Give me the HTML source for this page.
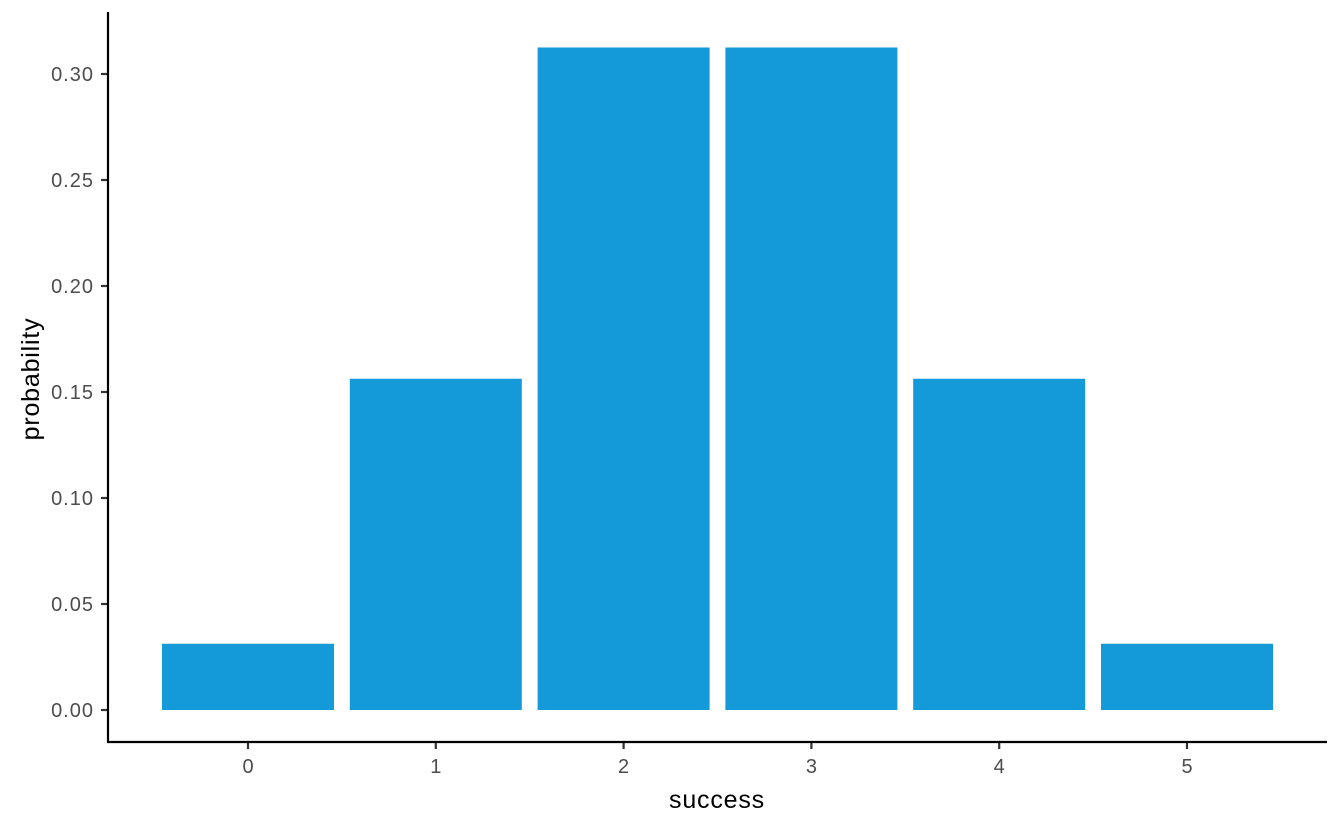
<!DOCTYPE html>
<html><head><meta charset="utf-8"><style>
html,body{margin:0;padding:0;background:#fff;}
svg{display:block;font-family:"Liberation Sans",Arial,sans-serif;}
</style></head><body>
<svg id="chart" width="1342" height="829" viewBox="0 0 1342 829" xmlns="http://www.w3.org/2000/svg">
<g id="bars"></g>
<g id="yticks"></g>
<g id="xticks"></g>
<line x1="108" y1="12" x2="108" y2="742" stroke="#000" stroke-width="2.2"/>
<line x1="107" y1="742" x2="1327" y2="742" stroke="#000" stroke-width="2.2"/>
<text x="717" y="808" text-anchor="middle" font-size="25" letter-spacing="0.8" fill="#000">success</text>
<text transform="translate(39,379) rotate(-90)" text-anchor="middle" font-size="25" letter-spacing="0.8" fill="#000">probability</text>
</svg>
<script>
const categories = ["0","1","2","3","4","5"];
const values = [0.03125,0.15625,0.3125,0.3125,0.15625,0.03125];
const yTickValues = [0,0.05,0.10,0.15,0.20,0.25,0.30];
const yTickLabels = ["0.00","0.05","0.10","0.15","0.20","0.25","0.30"];
const NS="http://www.w3.org/2000/svg";
function yScale(v){return 710 - v*2120;}
function xScale(i){return 248 + i*187.8;}
const bw=172;
const bars=document.getElementById('bars');
values.forEach((v,i)=>{
  const r=document.createElementNS(NS,'rect');
  r.setAttribute('x',xScale(i)-bw/2);
  r.setAttribute('y',yScale(v));
  r.setAttribute('width',bw);
  r.setAttribute('height',yScale(0)-yScale(v));
  r.setAttribute('fill','#159ad9');
  
  
  bars.appendChild(r);
});
const yt=document.getElementById('yticks');
yTickValues.forEach((v,i)=>{
  const y=yScale(v);
  const l=document.createElementNS(NS,'line');
  l.setAttribute('x1',101);l.setAttribute('x2',108);l.setAttribute('y1',y);l.setAttribute('y2',y);
  l.setAttribute('stroke','#333');l.setAttribute('stroke-width','2.2');
  
  
  yt.appendChild(l);
  const t=document.createElementNS(NS,'text');
  t.setAttribute('x',94);t.setAttribute('y',y+7);t.setAttribute('text-anchor','end');
  t.setAttribute('font-size','20');t.setAttribute('letter-spacing','1');t.setAttribute('fill','#4d4d4d');
  t.textContent=yTickLabels[i];
  
  
  yt.appendChild(t);
});
const xt=document.getElementById('xticks');
categories.forEach((c,i)=>{
  const x=xScale(i);
  const l=document.createElementNS(NS,'line');
  l.setAttribute('x1',x);l.setAttribute('x2',x);l.setAttribute('y1',742);l.setAttribute('y2',749);
  l.setAttribute('stroke','#333');l.setAttribute('stroke-width','2.2');
  
  
  xt.appendChild(l);
  const t=document.createElementNS(NS,'text');
  t.setAttribute('x',x);t.setAttribute('y',773);t.setAttribute('text-anchor','middle');
  t.setAttribute('font-size','20');t.setAttribute('fill','#4d4d4d');
  t.textContent=c;
  
  
  xt.appendChild(t);
});
</script>
</body></html>
